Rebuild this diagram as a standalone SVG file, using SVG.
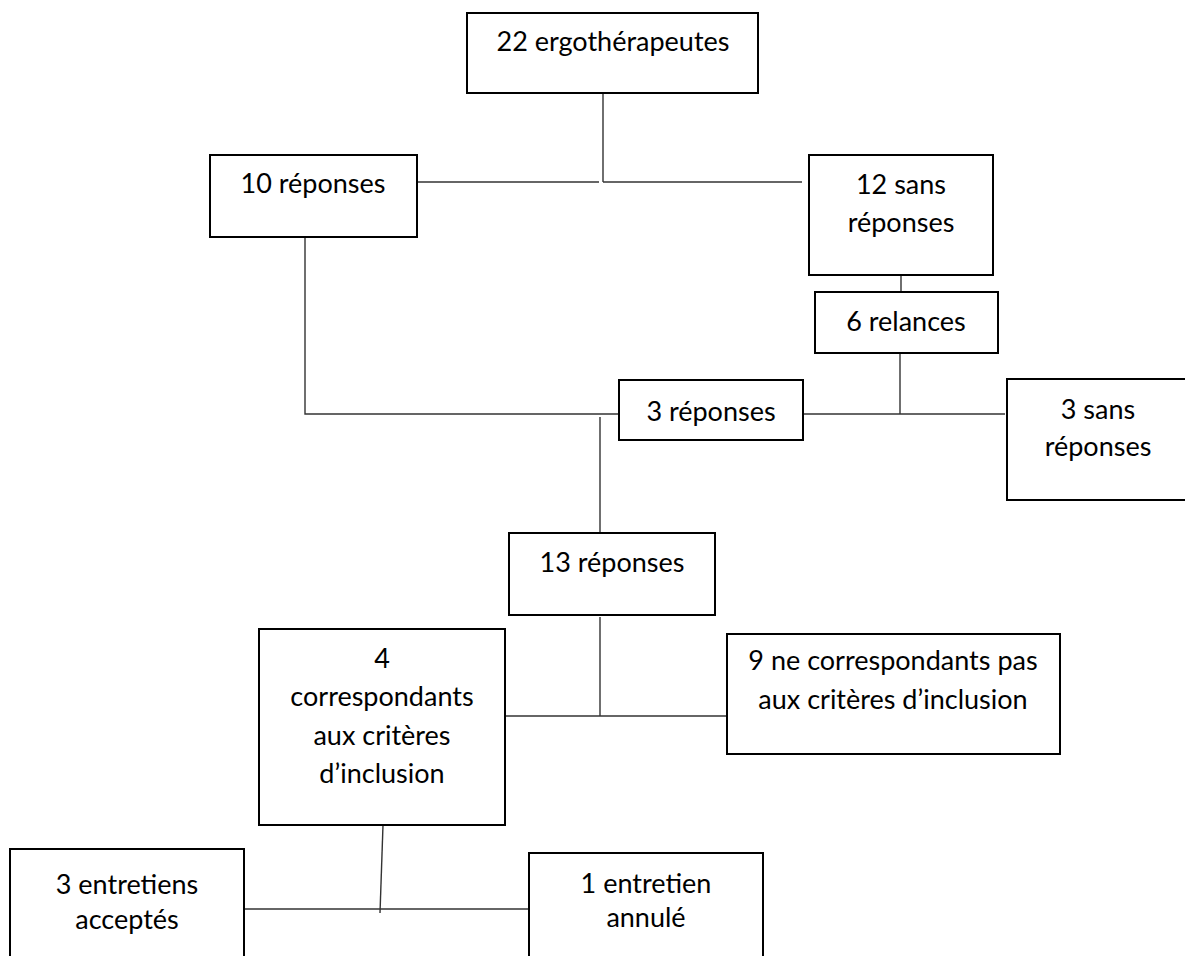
<svg xmlns="http://www.w3.org/2000/svg" width="1185" height="956" viewBox="0 0 1185 956">
<style>
.box{fill:#fff;stroke:#000;stroke-width:2}
.t{font-family:Lato,"Liberation Sans",sans-serif;font-size:27px;fill:#000;text-anchor:middle}
.c{stroke:#333;stroke-width:1.4;fill:none}
</style>
<rect width="1185" height="956" fill="#fff"/>
<g id="connectors">
<line class="c" x1="603" y1="93" x2="603" y2="182"/>
<line class="c" x1="417" y1="182" x2="599" y2="182"/>
<line class="c" x1="603" y1="182" x2="802" y2="182"/>
<polyline class="c" points="305,238 305,414 619,414"/>
<line class="c" x1="600" y1="417" x2="600" y2="533"/>
<line class="c" x1="901" y1="275" x2="901" y2="292"/>
<line class="c" x1="900" y1="353" x2="900" y2="414"/>
<line class="c" x1="803" y1="414" x2="1005" y2="414"/>
<line class="c" x1="600" y1="617" x2="600" y2="716"/>
<line class="c" x1="505" y1="716" x2="727" y2="716"/>
<line class="c" x1="383" y1="825" x2="380" y2="913"/>
<line class="c" x1="244" y1="909" x2="529" y2="909"/>
</g>
<g id="n1"><rect class="box" x="467" y="13" width="291" height="80"/><text class="t" x="613" y="51">22 ergothérapeutes</text></g>
<g id="n2"><rect class="box" x="210" y="155" width="207" height="82"/><text class="t" x="313" y="193">10 réponses</text></g>
<g id="n3"><rect class="box" x="809" y="155" width="184" height="120"/><text class="t" x="901" y="194">12 sans</text><text class="t" x="901" y="232">réponses</text></g>
<g id="n4"><rect class="box" x="815" y="292" width="183" height="61"/><text class="t" x="906" y="331">6 relances</text></g>
<g id="n5"><rect class="box" x="619" y="380" width="184" height="60"/><text class="t" x="711" y="421">3 réponses</text></g>
<g id="n6"><rect class="box" x="1007" y="379" width="190" height="121"/><text class="t" x="1098" y="419">3 sans</text><text class="t" x="1098" y="456">réponses</text></g>
<g id="n7"><rect class="box" x="509" y="533" width="206" height="82"/><text class="t" x="612" y="572">13 réponses</text></g>
<g id="n8"><rect class="box" x="259" y="629" width="246" height="196"/><text class="t" x="382" y="668">4</text><text class="t" x="382" y="706">correspondants</text><text class="t" x="382" y="745">aux critères</text><text class="t" x="382" y="783">d’inclusion</text></g>
<g id="n9"><rect class="box" x="727" y="634" width="333" height="120"/><text class="t" x="893" y="670">9 ne correspondants pas</text><text class="t" x="893" y="709">aux critères d’inclusion</text></g>
<g id="n10"><rect class="box" x="10" y="849" width="234" height="115"/><text class="t" x="127" y="894">3 entretiens</text><text class="t" x="127" y="929">acceptés</text></g>
<g id="n11"><rect class="box" x="529" y="853" width="234" height="115"/><text class="t" x="646" y="893">1 entretien</text><text class="t" x="646" y="927">annulé</text></g>
</svg>
